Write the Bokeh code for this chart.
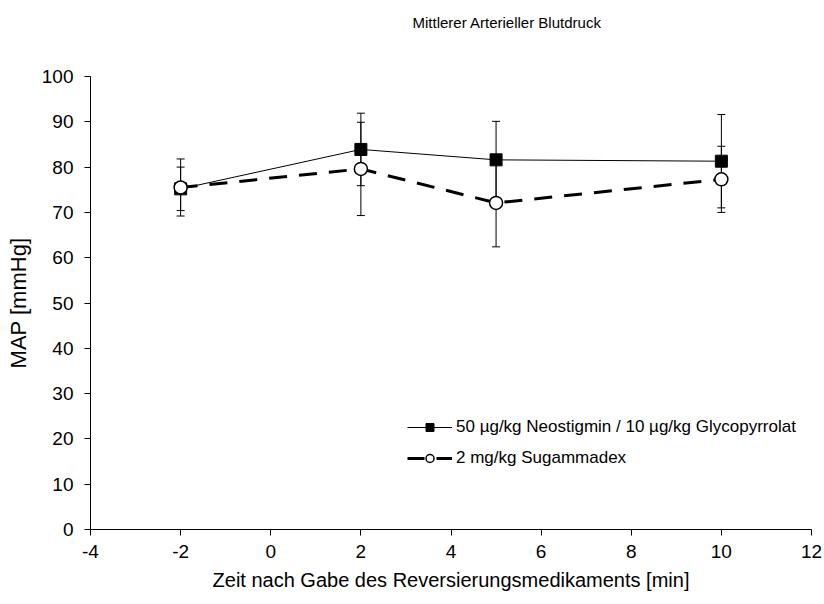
from bokeh.plotting import figure
from bokeh.models import (ColumnDataSource, Range1d, Whisker, TeeHead, Legend,
                          LegendItem, FixedTicker, Title)
from bokeh.embed import file_html
from bokeh.resources import INLINE

# Mean arterial pressure (mean ± SD) after reversal of neuromuscular block
time_min = [-2, 2, 5, 10]
neo_mean = [75.2, 83.9, 81.6, 81.3]
neo_sd = [4.8, 8.0, 8.5, 10.3]
sug_mean = [75.5, 79.6, 72.1, 77.3]
sug_sd = [6.3, 10.3, 9.7, 7.3]

label_neo = "50 µg/kg Neostigmin / 10 µg/kg Glycopyrrolat"
label_sug = "2 mg/kg Sugammadex"
x_ticks = [-4, -2, 0, 2, 4, 6, 8, 10, 12]
y_ticks = [0, 10, 20, 30, 40, 50, 60, 70, 80, 90, 100]

FONT = "Liberation Sans"

neo = ColumnDataSource(dict(
    x=time_min, y=neo_mean,
    lo=[m - s for m, s in zip(neo_mean, neo_sd)],
    hi=[m + s for m, s in zip(neo_mean, neo_sd)],
))
sug = ColumnDataSource(dict(
    x=time_min, y=sug_mean,
    lo=[m - s for m, s in zip(sug_mean, sug_sd)],
    hi=[m + s for m, s in zip(sug_mean, sug_sd)],
))

p = figure(
    width=824, height=604,
    x_range=Range1d(-4, 12), y_range=Range1d(0, 100),
    output_backend="svg", toolbar_location=None,
    min_border_left=90, min_border_right=13,
    min_border_top=76, min_border_bottom=75,
)
p.outline_line_color = None
p.grid.visible = False
p.background_fill_color = "white"
p.border_fill_color = "white"

# blank band between the heading and the plot frame
p.add_layout(Title(text=" ", text_font=FONT, text_font_size="15px",
                   standoff=15), "above")

p.title.text = "Mittlerer Arterieller Blutdruck"
p.title.text_font = FONT
p.title.text_font_size = "15px"
p.title.text_font_style = "normal"
p.title.text_color = "black"
p.title.align = "left"
p.title.offset = 322
p.title.vertical_align = "middle"
p.title.standoff = 22

# error bars
for src in (neo, sug):
    w = Whisker(source=src, base="x", lower="lo", upper="hi", dimension="height",
                line_color="black", line_width=1,
                upper_head=TeeHead(size=8, line_color="black", line_width=1),
                lower_head=TeeHead(size=8, line_color="black", line_width=1))
    p.add_layout(w)

neo_line = p.line("x", "y", source=neo, line_color="black", line_width=1)
sug_line = p.line("x", "y", source=sug, line_color="black", line_width=3,
                  line_dash="18 12", line_dash_offset=1)
neo_pts = p.scatter("x", "y", source=neo, marker="square", size=12,
                    fill_color="black", line_color="black")
sug_pts = p.scatter("x", "y", source=sug, marker="circle", size=13,
                    fill_color="white", line_color="black", line_width=1.5)

legend = Legend(
    items=[LegendItem(label=label_neo, renderers=[neo_line, neo_pts]),
           LegendItem(label=label_sug, renderers=[sug_line, sug_pts])],
    location=(317, 61), orientation="vertical",
    glyph_width=45, glyph_height=20, label_standoff=4, spacing=11, padding=0,
    border_line_color=None, background_fill_alpha=0,
    label_text_font=FONT, label_text_font_size="17px", label_text_color="black",
)
p.add_layout(legend)

p.xaxis.ticker = FixedTicker(ticks=x_ticks)
p.yaxis.ticker = FixedTicker(ticks=y_ticks)
p.xaxis.major_label_overrides = {t: str(t) for t in x_ticks}
for ax in (p.xaxis[0], p.yaxis[0]):
    ax.axis_line_color = "black"
    ax.major_tick_line_color = "black"
    ax.major_tick_out = 6
    ax.major_tick_in = 0
    ax.minor_tick_line_color = None
    ax.major_label_text_font = FONT
    ax.major_label_text_font_size = "19px"
    ax.major_label_text_color = "black"
    ax.axis_label_text_font = FONT
    ax.axis_label_text_font_style = "normal"
    ax.axis_label_text_color = "black"

p.xaxis.axis_label = "Zeit nach Gabe des Reversierungsmedikaments [min]"
p.yaxis.axis_label = "MAP [mmHg]"
p.xaxis.axis_label_text_font_size = "20px"
p.yaxis.axis_label_text_font_size = "22px"
p.xaxis.major_label_standoff = 9
p.yaxis.major_label_standoff = 11
p.xaxis.axis_label_standoff = 8
p.yaxis.axis_label_standoff = 8

open("out.html", "w").write(file_html(p, INLINE))
